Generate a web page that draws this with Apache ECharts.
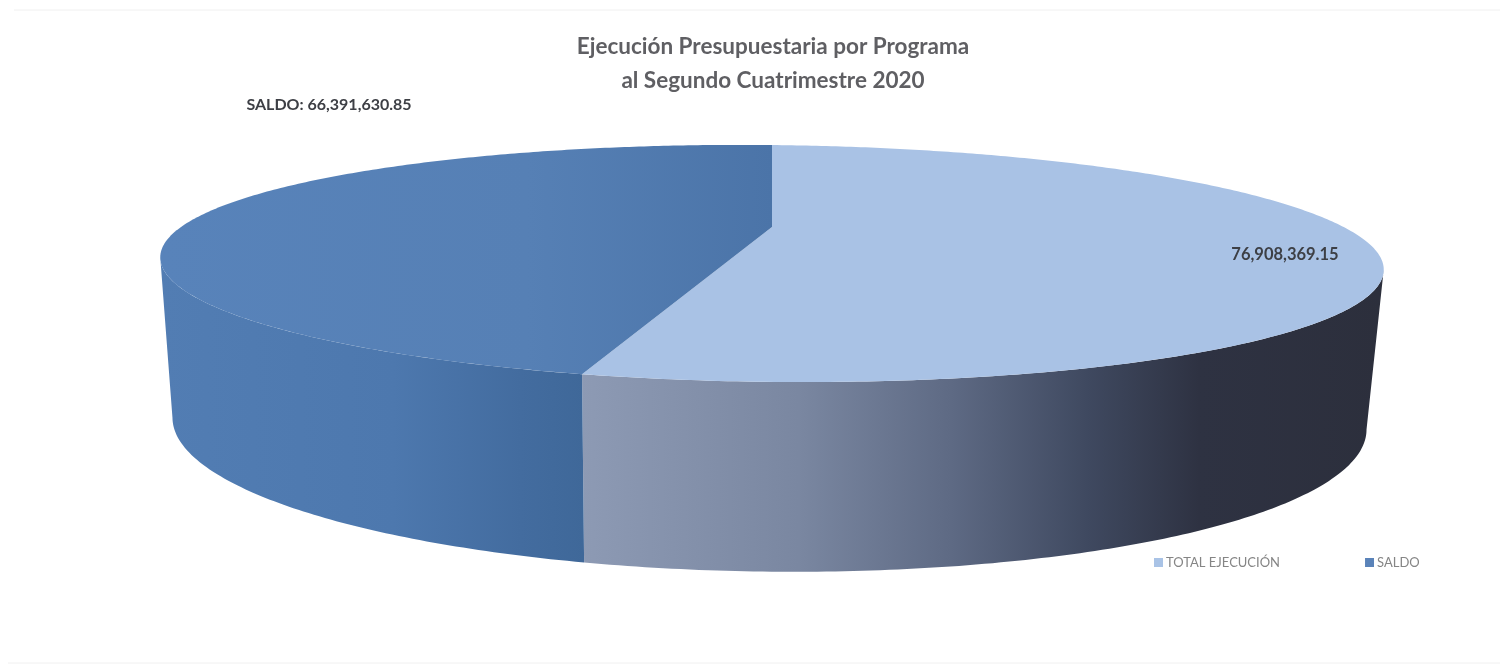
<!DOCTYPE html>
<html><head><meta charset="utf-8">
<style>html,body{margin:0;padding:0;background:#fff}#c{width:1511px;height:668px}</style>
<script src="https://cdn.jsdelivr.net/npm/echarts@6/dist/echarts.min.js"></script>
</head><body><div id="c"></div>
<script>
const categories = ['TOTAL EJECUCIÓN', 'SALDO'];
const seriesValues = [76908369.15, 66391630.85];
const labelPrefixes = ['', 'SALDO: '];
const legendColors = ['#a9c3e6', '#5a83b9'];

const total = seriesValues.reduce((a, b) => a + b, 0);
const P = 0.308, SHEAR = 0.01;
const TOP = {cx: 772, cy: 227, A: 582, B: 107.2};
const BOT = {cx: 769.5, cy: 378, A: 568, B: 134};
const TAN_R = Math.PI - Math.acos(P), TAN_L = 2 * Math.PI - TAN_R;

function proj(pl, t) {
  const X = Math.sin(t), Y = -Math.cos(t), d = 1 - P * Y;
  const x = pl.cx + pl.A * X / d;
  return [x, pl.cy + pl.B * Y / d + SHEAR * (x - pl.cx)];
}
function arc(pl, a, b) {
  const n = Math.max(2, Math.ceil(Math.abs(b - a) * 90)), out = [];
  for (let i = 0; i <= n; i++) out.push(proj(pl, a + (b - a) * i / n));
  return out;
}
const G = echarts.graphic.LinearGradient;
const topFills = [
  '#a9c2e5',
  new G(0, 0, 1, 0, [{offset: 0, color: '#5883ba'}, {offset: 0.6, color: '#5680b5'}, {offset: 1, color: '#4b74a8'}])
];
const sideFills = [
  new G(0, 0, 1, 0, [
    {offset: 0, color: '#8d9ab4'}, {offset: 0.27, color: '#7a87a1'},
    {offset: 0.46, color: '#5e6a84'}, {offset: 0.63, color: '#3f4960'},
    {offset: 0.77, color: '#2e3242'}, {offset: 1, color: '#2c2f3c'}]),
  new G(0, 0, 1, 0, [
    {offset: 0, color: '#527db3'}, {offset: 0.55, color: '#4d78ae'},
    {offset: 0.85, color: '#436c9f'}, {offset: 1, color: '#3f6899'}])
];
const labelAnchors = [[1285, 255], [329, 105]];
const labelSizes = [16.5, 16];

function renderSlice(i) {
  return function (params, api) {
    const before = seriesValues.slice(0, i).reduce((a, b) => a + b, 0);
    const a0 = 2 * Math.PI * before / total;
    const a1 = a0 + 2 * Math.PI * api.value(0) / total;
    const children = [];
    const s0 = Math.max(a0, TAN_R), s1 = Math.min(a1, TAN_L);
    if (s1 > s0) {
      children.push({type: 'polygon',
        shape: {points: arc(TOP, s0, s1).concat(arc(BOT, s1, s0))},
        style: {fill: sideFills[i]}});
    }
    const c = [TOP.cx, TOP.cy];
    children.push({type: 'polygon', shape: {points: [c].concat(arc(TOP, a0, a1))},
      style: {fill: topFills[i]}});
    const v = api.value(0).toLocaleString('en-US', {minimumFractionDigits: 2, maximumFractionDigits: 2});
    children.push({type: 'text', z2: 10, style: {
      text: labelPrefixes[i] + v, x: labelAnchors[i][0], y: labelAnchors[i][1],
      align: 'center', verticalAlign: 'middle', fill: '#3d3f45',
      font: 'bold ' + labelSizes[i] + 'px Lato'}});
    return {type: 'group', children};
  };
}

const chart = echarts.init(document.getElementById('c'), null, {renderer: 'canvas'});
chart.setOption({
  animation: false,
  backgroundColor: '#ffffff',
  title: {text: 'Ejecución Presupuestaria por Programa\nal Segundo Cuatrimestre 2020',
    left: 768, top: 25, textAlign: 'center',
    textStyle: {fontFamily: 'Lato', fontSize: 22.5, fontWeight: 'bold', color: '#5f5f63', lineHeight: 34}},
  legend: {left: 1149, top: 551, itemWidth: 9, itemHeight: 9, itemGap: 85,
    icon: 'rect', data: categories,
    textStyle: {fontFamily: 'Lato', fontSize: 13, color: '#858585', padding: [0, 0, 0, -2]}},
  graphic: [
    {type: 'line', silent: true, shape: {x1: 14, y1: 10, x2: 1500, y2: 10}, style: {stroke: '#f0f0f0', lineWidth: 1}},
    {type: 'line', silent: true, shape: {x1: 8, y1: 663, x2: 1500, y2: 663}, style: {stroke: '#f0f0f0', lineWidth: 1}}
  ],
  series: categories.map((name, i) => ({
    type: 'custom', name, coordinateSystem: 'none',
    itemStyle: {color: legendColors[i]},
    renderItem: renderSlice(i),
    data: [[seriesValues[i]]]
  }))
});
</script></body></html>
